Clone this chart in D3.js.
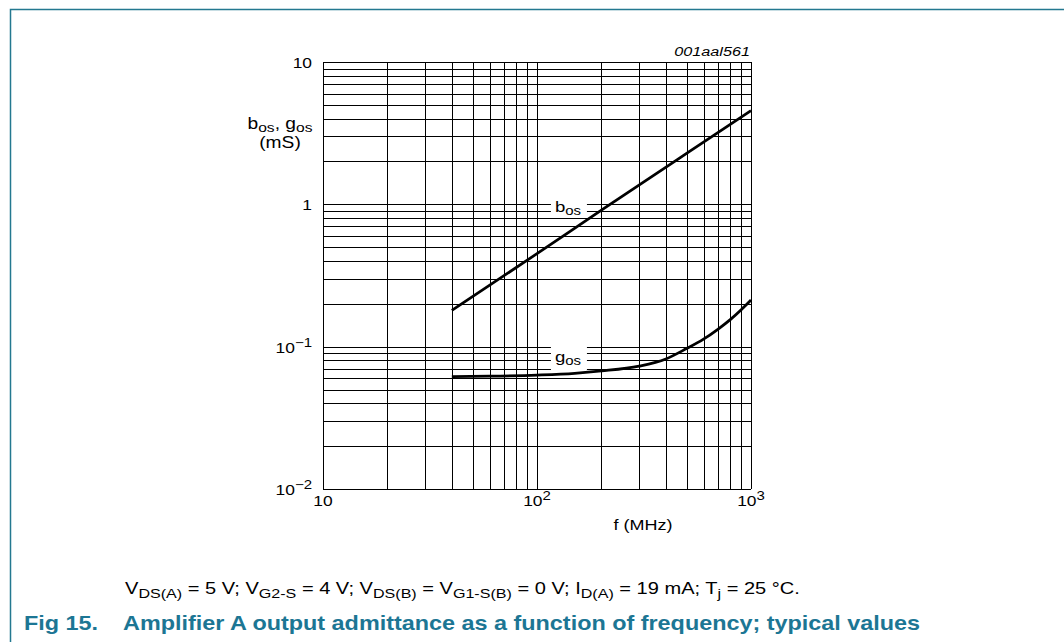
<!DOCTYPE html>
<html>
<head>
<meta charset="utf-8">
<script src="https://cdn.jsdelivr.net/npm/d3@7"></script>
<style>
  html, body { margin: 0; padding: 0; background: #fff; }
  svg { display: block; font-family: "Liberation Sans", Arial, sans-serif; }
  .grid line { stroke: #000; stroke-width: 1; shape-rendering: crispEdges; }
  .grid .domain { display: none; }
  .curve { fill: none; stroke: #000; stroke-width: 2.8; }
</style>
</head>
<body>
<div id="chart"></div>
<script>
// grid values (log decades)
const xGrid = [10, 20, 30, 40, 50, 60, 70, 80, 90, 100, 200, 300, 400, 500, 600, 700, 800, 900, 1000];
const yGrid = [0.01, 0.02, 0.03, 0.04, 0.05, 0.06, 0.07, 0.08, 0.09,
               0.1, 0.2, 0.3, 0.4, 0.5, 0.6, 0.7, 0.8, 0.9,
               1, 2, 3, 4, 5, 6, 7, 8, 9, 10];

// tick labels
const xTickVals = [10, 100, 1000];
const xTickBase = ["10", "10", "10"];
const xTickExp = ["", "2", "3"];
const yTickVals = [0.01, 0.1, 1, 10];
const yTickBase = ["10", "10", "1", "10"];
const yTickExp = ["\u22122", "\u22121", "", ""];

// b_os curve (mS) vs f (MHz)
const freqB = [40, 100, 200, 500, 1000];
const bos = [0.18, 0.45, 0.91, 2.28, 4.55];

// g_os curve (mS) vs f (MHz)
const freqG = [40, 60, 100, 150, 200, 300, 400, 500, 600, 700, 800, 900, 1000];
const gos = [0.0615, 0.062, 0.0632, 0.065, 0.0675, 0.073, 0.082, 0.097, 0.113, 0.1325, 0.155, 0.182, 0.213];

// curve label anchors (f, value)
const bosLabel = [141, 0.953];
const gosLabel = [141, 0.0847];

const W = 1064, H = 642;
const margin = {top: 62, left: 323};
const width = 428, height = 427;
const SX = 1.2; // the source typesetting is a little wide

const svg = d3.select("#chart").append("svg")
    .attr("width", W)
    .attr("height", H);

function txt(parent, px, py, size, anchor) {
    return parent.append("text")
        .attr("transform", "translate(" + px + "," + py + ") scale(" + SX + ",1)")
        .attr("font-size", size)
        .attr("text-anchor", anchor || "start");
}

// teal page frame
svg.append("path")
    .attr("d", "M10.5,642 L10.5,9.5 L1064,9.5")
    .attr("fill", "none")
    .attr("stroke", "#237890")
    .attr("stroke-width", 1.5);

const g = svg.append("g")
    .attr("transform", "translate(" + margin.left + "," + margin.top + ")");

const x = d3.scaleLog().domain([10, 1000]).range([0, width]);
const y = d3.scaleLog().domain([0.01, 10]).range([height, 0]);

// grid lines
g.append("g")
    .attr("class", "grid")
    .attr("transform", "translate(0," + height + ")")
    .call(d3.axisBottom(x).tickValues(xGrid).tickSize(-height).tickFormat(""));

g.append("g")
    .attr("class", "grid")
    .call(d3.axisLeft(y).tickValues(yGrid).tickSize(-width).tickFormat(""));

// tick labels with superscripts
xTickVals.forEach((d, i) => {
    const t = txt(g, x(d), height + 17, 14.5, "middle");
    t.append("tspan").text(xTickBase[i]);
    if (xTickExp[i]) t.append("tspan").attr("dy", -6).attr("font-size", 12.5).text(xTickExp[i]);
});

yTickVals.forEach((d, i) => {
    const t = txt(g, -11, y(d) + 6, 14.5, "end");
    t.append("tspan").text(yTickBase[i]);
    if (yTickExp[i]) t.append("tspan").attr("dy", -6).attr("font-size", 12.5).text(yTickExp[i]);
});

// white masks behind the curve labels
function labelMask(pos, boxH) {
    g.append("rect")
        .attr("x", x(pos[0]) - 18)
        .attr("y", y(pos[1]) - boxH / 2)
        .attr("width", 36)
        .attr("height", boxH)
        .attr("fill", "#fff");
}
labelMask(bosLabel, 17);
labelMask(gosLabel, 30);

// curves
const line = d3.line()
    .x(d => x(d[0]))
    .y(d => y(d[1]))
    .curve(d3.curveMonotoneX);

g.append("path")
    .datum(freqB.map((f, i) => [f, bos[i]]))
    .attr("class", "curve")
    .attr("d", line);

g.append("path")
    .datum(freqG.map((f, i) => [f, gos[i]]))
    .attr("class", "curve")
    .attr("d", line);

// curve labels
function curveLabel(main, sub, pos, dy) {
    const t = txt(g, x(pos[0]) - 14, y(pos[1]) + dy, 15.5, "start");
    t.append("tspan").text(main);
    t.append("tspan").attr("dy", 3).attr("font-size", 12.5).text(sub);
}
curveLabel("b", "os", bosLabel, 5);
curveLabel("g", "os", gosLabel, 5);

// axis titles
const yt = txt(svg, 280, 129, 16, "middle");
yt.append("tspan").text("b");
yt.append("tspan").attr("dy", 3).attr("font-size", 13).text("os");
yt.append("tspan").attr("dy", -3).text(", g");
yt.append("tspan").attr("dy", 3).attr("font-size", 13).text("os");

txt(svg, 280, 148, 16, "middle").text("(mS)");

txt(svg, 643, 530, 15, "middle").text("f (MHz)");

txt(svg, 750, 56, 13.5, "end")
    .attr("font-style", "italic")
    .text("001aal561");

// conditions line
const cond = [
    ["V", 0], ["DS(A)", 1], [" = 5 V; V", 0], ["G2-S", 1], [" = 4 V; V", 0], ["DS(B)", 1],
    [" = V", 0], ["G1-S(B)", 1], [" = 0 V; I", 0], ["D(A)", 1], [" = 19 mA; T", 0], ["j", 1],
    [" = 25 \u00B0C.", 0]
];
const ct = txt(svg, 125, 594, 16.7, "start");
let prevSub = 0;
cond.forEach(c => {
    const ts = ct.append("tspan").text(c[0]);
    if (c[1] !== prevSub) ts.attr("dy", c[1] ? 3.5 : -3.5);
    if (c[1]) ts.attr("font-size", 13.4);
    prevSub = c[1];
});

// figure title
const titleColor = "#1c7694";
txt(svg, 24, 630, 19.5, "start")
    .attr("font-weight", "bold")
    .attr("fill", titleColor)
    .text("Fig 15.");
txt(svg, 123, 630, 19.5, "start")
    .attr("font-weight", "bold")
    .attr("fill", titleColor)
    .text("Amplifier A output admittance as a function of frequency; typical values");
</script>
</body>
</html>
